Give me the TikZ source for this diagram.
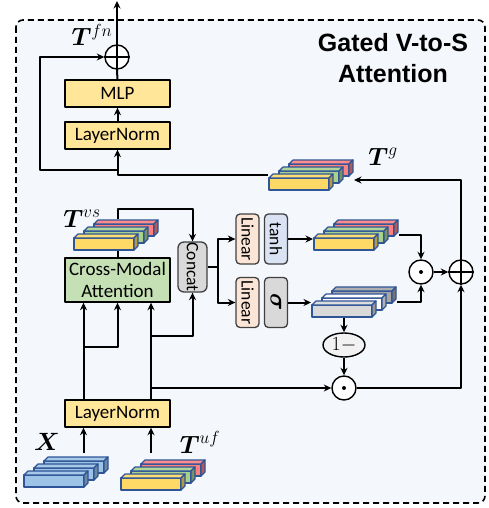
\RequirePackage{fix-cm}
\documentclass[tikz,border=0pt]{standalone}
\usepackage{amsmath,amssymb}
\usepackage{bm}
\usepackage{graphicx}
\usepackage{fontspec}
\setsansfont{Carlito}
\newfontfamily\headfont{Liberation Sans}
\usepackage{xcolor}
\usepackage{tikz}
\usetikzlibrary{arrows.meta,calc,shapes.geometric}
\definecolor{ColBack}{RGB}{244,247,252}
\definecolor{ColNorm}{RGB}{255,230,153}
\definecolor{ColAttn}{RGB}{197,224,180}
\definecolor{ColLin}{RGB}{251,229,214}
\definecolor{ColTanh}{RGB}{218,227,243}
\definecolor{ColGray}{RGB}{217,217,217}
\definecolor{ColOne}{RGB}{242,242,242}
\definecolor{ColRim}{RGB}{64,64,64}
\definecolor{ColEdge}{RGB}{47,85,151}
\definecolor{ColYel}{RGB}{255,217,102}
\definecolor{ColGrn}{RGB}{169,209,142}
\definecolor{ColRed}{RGB}{255,128,128}
\definecolor{ColBlu}{RGB}{157,195,230}
\definecolor{ColWht}{RGB}{255,255,255}
\definecolor{ColDrk}{RGB}{166,166,166}

% stack of three bars: name, x, y (front bar, lower left), front, middle, back
\newcommand{\barstack}[6]{%
  \foreach \k/\col in {2/#6,1/#5,0/#4}{
    \begin{scope}[shift={({#2+10*\k},{#3-7*\k})}, draw=ColEdge, line width=1.2pt]
      \filldraw[fill=\col] (0,0) rectangle (60,-12);
      \filldraw[fill=\col!90!white] (0,-12) -- (4,-16) -- (64,-16) -- (60,-12) -- cycle;
      \filldraw[fill=\col!70!black] (60,0) -- (64,-4) -- (64,-16) -- (60,-12) -- cycle;
    \end{scope}
  }
  \node[stackbox] (#1) at ({#2+42},{#3-15}) {};
}

\begin{document}
\begin{tikzpicture}[
  x=1pt, y=-1pt,
  >={Stealth[length=7.5pt,width=7pt]},
  line width=2pt,
  line join=round,
  normbox/.style={draw, line width=1.4pt, fill=ColNorm, minimum width=105pt,
    minimum height=27pt, inner sep=0pt, font=\sffamily\fontsize{19}{21}\selectfont},
  attnbox/.style={normbox, fill=ColAttn, minimum height=44pt, align=center,
    font=\sffamily\fontsize{19}{22}\selectfont},
  slimbox/.style={draw=ColRim, line width=1.3pt, rounded corners=4pt, minimum width=23pt,
    minimum height=50pt, inner sep=0pt, font=\sffamily\fontsize{17.5}{19}\selectfont},
  opnode/.style={circle, draw, line width=1.4pt, fill=white, minimum size=24pt, inner sep=0pt},
  stackbox/.style={inner sep=0pt, minimum width=84pt, minimum height=30pt},
  mathlabel/.style={anchor=base, font=\fontsize{25}{27}\selectfont}
]
  \useasboundingbox (0,0) rectangle (488,508);
  \draw[line width=1.6pt, dash pattern=on 6pt off 4pt, fill=ColBack, rounded corners=7pt]
    (16,20) rectangle (485,503);

  \node[font=\headfont\bfseries\fontsize{25}{31}\selectfont, align=center] (title)
    at (393,58) {Gated V-to-S\\Attention};

  % Feed-forward part
  \node[opnode] (pl1) at (117,57) {};
  \draw[line width=1.4pt] (pl1.north) -- (pl1.south) (pl1.west) -- (pl1.east);
  \node[normbox] (mlp) at (117.5,93.5) {MLP};
  \node[normbox] (ln1) at (117.5,135.5) {LayerNorm};
  \coordinate (top) at (117,1);
  \coordinate (lp) at (40,170);
  \node[mathlabel] (lfn) at (92,46) {$\boldsymbol{T}^{fn}$};

  \draw[->] (pl1) -- (top);
  \draw (mlp) -- (pl1);
  \draw[->] (ln1) -- (mlp);
  \draw[->] (ln1.south |- lp) -- (lp) |- (pl1.west);

  % Gating part
  \barstack{tg}{269}{190}{ColYel}{ColGrn}{ColRed}
  \barstack{st1}{314}{250}{ColYel}{ColGrn}{ColRed}
  \barstack{st2}{312}{317}{ColGray}{ColWht}{ColDrk}
  \node[mathlabel] (lg) at (383,165) {$\boldsymbol{T}^{g}$};

  \node[slimbox, fill=ColLin] (lin1) at (247.5,239) {\rotatebox{-90}{Linear}};
  \node[slimbox, fill=ColTanh] (tnh) at (276,239) {\rotatebox{-90}{tanh}};
  \node[slimbox, fill=ColLin] (lin2) at (247.5,302.5) {\rotatebox{-90}{Linear}};
  \node[slimbox, fill=ColGray, font=\fontsize{24}{26}\selectfont] (sgm) at (276,302.5)
    {\rotatebox{-90}{$\boldsymbol{\sigma}$}};
  \node[slimbox, fill=ColGray, minimum width=29pt, rounded corners=6pt] (cat) at (192.5,267)
    {\rotatebox{-90}{Concat}};
  \coordinate (fork) at (218,267);

  \node[opnode] (dt1) at (421,272) {};
  \fill (dt1) circle (2pt);
  \node[opnode] (pl2) at (461,272) {};
  \draw[line width=1.4pt] (pl2.north) -- (pl2.south) (pl2.west) -- (pl2.east);
  \node[ellipse, draw, line width=1.4pt, fill=ColOne, minimum width=42pt, minimum height=24pt,
    inner sep=0pt, font=\fontsize{20}{22}\selectfont] (om) at (344,345) {$1-$};
  \node[opnode] (dt2) at (344,388) {};
  \fill (dt2) circle (2pt);

  \draw[->] (tg.west) -| (ln1.south);
  \draw[->] (pl2.north) |- ([yshift=-5pt]tg.east);
  \draw[->] (dt1) -- (pl2);
  \draw[->] (st1.east) -| (dt1.north);
  \draw[->] (st2.east) -| (dt1.south);
  \draw[->] (st2.south -| om.north) -- (om.north);
  \draw[->] (om) -- (dt2);
  \draw[->] (dt2) -| (pl2.south);
  \draw[->] (tnh) -- (tnh -| st1.west);
  \draw[->] (sgm) -- (sgm -| st2.west);
  \draw (cat.east) -- (fork);
  \draw[->] (fork) |- (lin1);
  \draw[->] (fork) |- (lin2);

  % Cross-modal part
  \node[attnbox] (cma) at (117.5,280) {Cross-Modal\\Attention};
  \barstack{tvs}{74}{250}{ColYel}{ColGrn}{ColRed}
  \node[mathlabel] (lvs) at (82,227) {$\boldsymbol{T}^{vs}$};
  \node[normbox] (ln2) at (117.5,413.5) {LayerNorm};

  \draw (cma.north) -- (cma.north |- tvs.south);
  \draw[->] (cma.north |- tvs.north) -- ++(0,-10) -| (cat.north);
  \draw[->] ([xshift=-34pt]ln2.north) -- ([xshift=-34pt]cma.south);
  \draw[->] ([xshift=-34pt]ln2.north) ++(0,-52) -| (cma.south);
  \draw[->] ([xshift=33.5pt]ln2.north) -- ([xshift=33.5pt]cma.south);
  \draw[->] ([xshift=33.5pt]ln2.north) ++(0,-63) -| (cat.south);
  \draw[->] ([xshift=33.5pt]ln2.north |- dt2) -- (dt2);

  % Inputs
  \barstack{xs}{24}{487}{ColBlu}{ColBlu}{ColBlu}
  \barstack{tuf}{121}{490}{ColYel}{ColGrn}{ColRed}
  \node[mathlabel] (lx) at (47,450) {$\boldsymbol{X}$};
  \node[mathlabel] (luf) at (200,453) {$\boldsymbol{T}^{uf}$};
  \draw[->] ([xshift=-34pt,yshift=-25pt]ln2.south) -- ([xshift=-34pt]ln2.south);
  \draw[->] ([xshift=33.5pt,yshift=-25pt]ln2.south) -- ([xshift=33.5pt]ln2.south);
\end{tikzpicture}
\end{document}
